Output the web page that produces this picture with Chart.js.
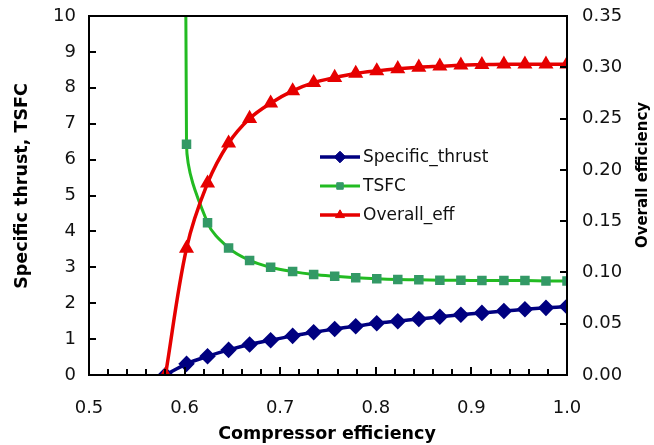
<!DOCTYPE html>
<html>
<head>
<meta charset="utf-8">
<script src="https://cdn.jsdelivr.net/npm/chart.js@4.4.1/dist/chart.umd.min.js"></script>
<style>
  html, body { margin: 0; padding: 0; background: #fff; }
  #wrap { width: 654px; height: 445px; position: relative; }
</style>
</head>
<body>
<div id="wrap"><canvas id="c" width="654" height="445"></canvas></div>
<script>
// Compressor efficiency sweep
const compressorEff = [0.580, 0.602, 0.624, 0.646, 0.668, 0.690, 0.713, 0.735, 0.757, 0.779,
                       0.801, 0.823, 0.845, 0.867, 0.889, 0.911, 0.934, 0.956, 0.978, 1.000];
const specificThrust = [0.00, 0.31, 0.52, 0.70, 0.85, 0.97, 1.09, 1.19, 1.28, 1.36,
                        1.44, 1.50, 1.56, 1.62, 1.68, 1.73, 1.78, 1.83, 1.87, 1.91];
const tsfc = [150, 6.43, 4.24, 3.54, 3.19, 3.00, 2.88, 2.80, 2.75, 2.71,
              2.68, 2.66, 2.65, 2.64, 2.64, 2.63, 2.63, 2.63, 2.62, 2.62];
const overallEff = [0.000, 0.1235, 0.187, 0.226, 0.250, 0.265, 0.277, 0.285, 0.290, 0.294,
                    0.2965, 0.2985, 0.300, 0.301, 0.302, 0.3025, 0.303, 0.303, 0.303, 0.303];

const seriesNames = ['Specific_thrust', 'TSFC', 'Overall_eff'];
const xTitle = 'Compressor efficiency';
const yLeftTitle = 'Specific thrust, TSFC';
const yRightTitle = 'Overall efficiency';

const FONT = '"DejaVu Sans", sans-serif';
const toXY = (ys) => ys.map((y, i) => ({ x: compressorEff[i], y }));

// Frame, inward tick marks, axis titles and the in-plot legend
const decorations = {
  id: 'decorations',
  afterDatasetsDraw(chart) {
    const { ctx, chartArea: a, scales } = chart;
    ctx.save();
    ctx.strokeStyle = '#000';
    ctx.lineWidth = 2;
    ctx.lineCap = 'butt';
    ctx.strokeRect(a.left, a.top, a.right - a.left, a.bottom - a.top);

    ctx.beginPath();
    // bottom axis: majors every 0.1, minors every 0.02
    for (let k = 0; k <= 25; k++) {
      const v = 0.5 + k * 0.02;
      const px = Math.round(scales.x.getPixelForValue(v));
      const len = (k % 5 === 0) ? 8 : 6;
      ctx.moveTo(px, a.bottom);
      ctx.lineTo(px, a.bottom - len);
    }
    // left axis ticks
    scales.y.ticks.forEach(t => {
      const py = Math.round(scales.y.getPixelForValue(t.value));
      ctx.moveTo(a.left, py);
      ctx.lineTo(a.left + 7, py);
    });
    // right axis ticks
    scales.y2.ticks.forEach(t => {
      const py = Math.round(scales.y2.getPixelForValue(t.value));
      ctx.moveTo(a.right, py);
      ctx.lineTo(a.right - 7, py);
    });
    ctx.stroke();

    // axis titles
    ctx.fillStyle = '#000';
    ctx.textAlign = 'center';
    ctx.textBaseline = 'middle';
    ctx.font = 'bold 17.5px ' + FONT;
    ctx.fillText(xTitle, (a.left + a.right) / 2 - 1, 434);
    ctx.save();
    ctx.translate(22, a.top + 170);
    ctx.rotate(-Math.PI / 2);
    ctx.fillText(yLeftTitle, 0, 0);
    ctx.restore();
    ctx.font = 'bold 15px ' + FONT;
    ctx.save();
    ctx.translate(643, a.top + 159);
    ctx.rotate(-Math.PI / 2);
    ctx.fillText(yRightTitle, 0, 0);
    ctx.restore();

    // legend: line sample with marker, then label
    const lx0 = a.left + 231, lx1 = a.left + 271, tx = a.left + 274;
    const rows = [a.top + 141, a.top + 170, a.top + 199];
    chart.data.datasets.forEach((ds, i) => {
      const y = rows[i];
      ctx.strokeStyle = ds.borderColor;
      ctx.lineWidth = ds.borderWidth;
      ctx.beginPath();
      ctx.moveTo(lx0, y);
      ctx.lineTo(lx1, y);
      ctx.stroke();
      ctx.fillStyle = ds.pointBackgroundColor;
      ctx.strokeStyle = ds.pointBorderColor;
      ctx.lineWidth = 1;
      Chart.helpers.drawPoint(ctx, {
        pointStyle: ds.pointStyle, radius: ds.pointRadius, rotation: 0, borderWidth: 1
      }, (lx0 + lx1) / 2, y);
      ctx.fillStyle = '#111';
      ctx.font = '17px ' + FONT;
      ctx.textAlign = 'left';
      ctx.textBaseline = 'middle';
      ctx.fillText(ds.label, tx, y + 1);
    });
    ctx.restore();
  }
};

const tickFont = { family: FONT, size: 18 };
const noPadV = s => { s.paddingTop = 0; s.paddingBottom = 0; };

new Chart(document.getElementById('c'), {
  type: 'line',
  data: {
    datasets: [
      {
        label: seriesNames[0], data: toXY(specificThrust), yAxisID: 'y',
        borderColor: '#000080', borderWidth: 3.5,
        pointStyle: 'rectRot', pointRadius: 5.8,
        pointBackgroundColor: '#000080', pointBorderColor: '#000080',
        order: 3
      },
      {
        label: seriesNames[1], data: toXY(tsfc), yAxisID: 'y',
        borderColor: '#22bb22', borderWidth: 3,
        pointStyle: 'rect', pointRadius: 4.6,
        pointBackgroundColor: '#339966', pointBorderColor: '#339966',
        order: 2
      },
      {
        label: seriesNames[2], data: toXY(overallEff), yAxisID: 'y2',
        borderColor: '#e60000', borderWidth: 3.5,
        pointStyle: 'triangle', pointRadius: 5.2,
        pointBackgroundColor: '#e60000', pointBorderColor: '#e60000',
        order: 1
      }
    ]
  },
  options: {
    responsive: false,
    animation: false,
    devicePixelRatio: 1,
    layout: { padding: { top: 16, right: 0, bottom: 0, left: 0 } },
    elements: {
      line: { tension: 0.35, capBezierPoints: false, fill: false },
      point: { borderWidth: 1 }
    },
    plugins: {
      legend: { display: false },
      tooltip: { enabled: false }
    },
    scales: {
      x: {
        type: 'linear', min: 0.5, max: 1.0,
        grid: { display: false, drawTicks: false },
        border: { display: false },
        ticks: {
          stepSize: 0.1, padding: 23, color: '#111', font: tickFont,
          maxRotation: 0, callback: v => v.toFixed(1)
        },
        afterFit: s => { s.height = 70; s.paddingLeft = 0; s.paddingRight = 0; }
      },
      y: {
        position: 'left', min: 0, max: 10,
        grid: { display: false, drawTicks: false },
        border: { display: false },
        ticks: { stepSize: 1, padding: 13, color: '#111', font: tickFont },
        afterFit: s => { s.width = 89; noPadV(s); }
      },
      y2: {
        position: 'right', min: 0, max: 0.35,
        grid: { display: false, drawTicks: false },
        border: { display: false },
        ticks: {
          stepSize: 0.05, padding: 15, color: '#111', font: tickFont,
          callback: v => v.toFixed(2)
        },
        afterFit: s => { s.width = 87; noPadV(s); }
      }
    }
  },
  plugins: [decorations]
});
</script>
</body>
</html>
